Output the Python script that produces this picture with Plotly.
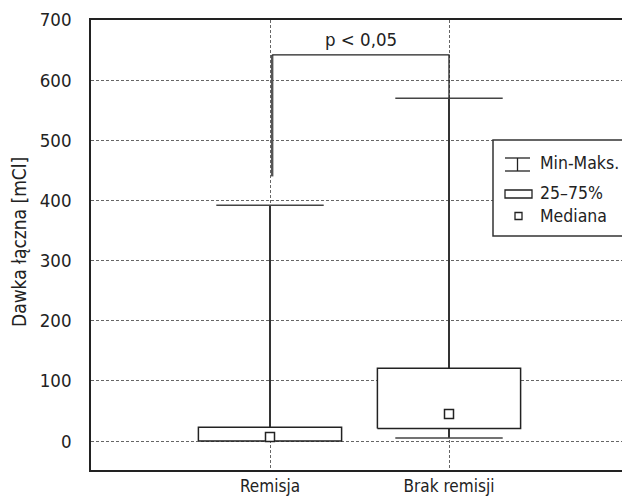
import plotly.graph_objects as go

# ---- data ----
categories = ["Remisja", "Brak remisji"]
mins = [0, 5]
q1 = [0, 21]
medians = [7, 45]
q3 = [23, 121]
maxs = [392, 570]
y_ticks = [0, 100, 200, 300, 400, 500, 600, 700]
p_text = "p < 0,05"
bracket_top = 642
bracket_left_start = 440
legend_labels = ["Min-Maks.", "25–75%", "Mediana"]
y_title = "Dawka łączna [mCl]"

FONT = "Liberation Sans Narrow, Arial Narrow, DejaVu Sans Condensed, sans-serif"
W, H = 622, 497
ML, MR, MT, MB = 91, 0, 20, 27
BOX_HW = 0.4
CAP_HW = 0.3

fig = go.Figure()
xs = list(range(len(categories)))

# whiskers
for i in xs:
    fig.add_trace(go.Scatter(x=[i, i], y=[mins[i], maxs[i]], mode="lines",
                             line=dict(color="#333333", width=2), hoverinfo="skip"))
    for v in (mins[i], maxs[i]):
        if v < q1[i] or v > q3[i]:
            fig.add_trace(go.Scatter(x=[i - CAP_HW, i + CAP_HW], y=[v, v], mode="lines",
                                     line=dict(color="#444444", width=1.5), hoverinfo="skip"))
# boxes
for i in xs:
    fig.add_trace(go.Scatter(x=[i - BOX_HW, i + BOX_HW, i + BOX_HW, i - BOX_HW, i - BOX_HW],
                             y=[q1[i], q1[i], q3[i], q3[i], q1[i]], mode="lines",
                             fill="toself", fillcolor="white",
                             line=dict(color="#222222", width=1.5), hoverinfo="skip"))
# medians
fig.add_trace(go.Scatter(x=xs, y=medians, mode="markers",
                         marker=dict(symbol="square", size=9, color="white",
                                     line=dict(color="#222222", width=1.5)),
                         hoverinfo="skip"))
# significance bracket
fig.add_trace(go.Scatter(x=[0.012, 0.012], y=[bracket_left_start, bracket_top], mode="lines",
                         line=dict(color="#555555", width=2.5), hoverinfo="skip"))
fig.add_trace(go.Scatter(x=[0.012, 1, 1], y=[bracket_top, bracket_top, maxs[1]], mode="lines",
                         line=dict(color="#222222", width=1.3), hoverinfo="skip"))
fig.add_annotation(x=0.51, y=bracket_top, text=p_text, showarrow=False, yanchor="bottom",
                   yshift=3, font=dict(family=FONT, size=18.5, color="#222222"))

# y title
pw, ph = W - ML - MR, H - MT - MB
def px(xp):
    return (xp - ML) / pw
def py(yp):
    return (H - MB - yp) / ph

fig.add_annotation(x=px(19), y=py(242), xref="paper", yref="paper", text=y_title, textangle=-90,
                   xanchor="center", yanchor="middle",
                   showarrow=False, font=dict(family=FONT, size=19, color="#222222"))

# legend (drawn)
shapes = []
shapes.append(dict(type="rect", xref="paper", yref="paper", x0=px(493), x1=px(640),
                   y0=py(236), y1=py(140), line=dict(color="#333333", width=1.5),
                   fillcolor="white", layer="above"))
lc = dict(color="#222222", width=1.3)
shapes.append(dict(type="line", xref="paper", yref="paper", x0=px(505), x1=px(530), y0=py(158), y1=py(158), line=lc))
shapes.append(dict(type="line", xref="paper", yref="paper", x0=px(505), x1=px(530), y0=py(171), y1=py(171), line=lc))
shapes.append(dict(type="line", xref="paper", yref="paper", x0=px(517.5), x1=px(517.5), y0=py(158), y1=py(171), line=lc))
shapes.append(dict(type="rect", xref="paper", yref="paper", x0=px(505), x1=px(532), y0=py(198), y1=py(190), line=lc, fillcolor="white"))
shapes.append(dict(type="rect", xref="paper", yref="paper", x0=px(515), x1=px(522), y0=py(219.5), y1=py(212.5), line=lc, fillcolor="white"))
fig.update_layout(shapes=shapes)
for lab, yp in zip(legend_labels, [163, 193, 216]):
    fig.add_annotation(x=px(538), y=py(yp), xref="paper", yref="paper", text=lab, showarrow=False,
                       xanchor="left", yanchor="middle", font=dict(family=FONT, size=17.5, color="#222222"))

grid = dict(gridcolor="#666666", gridwidth=1, griddash="3px,2px")
fig.update_layout(
    width=W, height=H, margin=dict(l=ML, r=MR, t=MT, b=MB, pad=0, autoexpand=False),
    plot_bgcolor="white", paper_bgcolor="white", showlegend=False,
    font=dict(family=FONT, size=17, color="#222222"),
    xaxis=dict(range=[-1, -1 + pw / 179.0], tickvals=xs, ticktext=categories, showgrid=True,
               zeroline=False, showline=True, linecolor="#222222", linewidth=1.5, mirror=True,
               ticks="", ticklabelstandoff=0, tickfont=dict(size=17), automargin=False, **grid),
    yaxis=dict(range=[-48, 700], tickvals=y_ticks, showgrid=True, zeroline=False, showline=True,
               linecolor="#222222", linewidth=1.5, mirror=False, ticks="",
               ticklabelstandoff=14, tickfont=dict(size=18.5), automargin=False, **grid),
)
fig.write_html("out.html")
